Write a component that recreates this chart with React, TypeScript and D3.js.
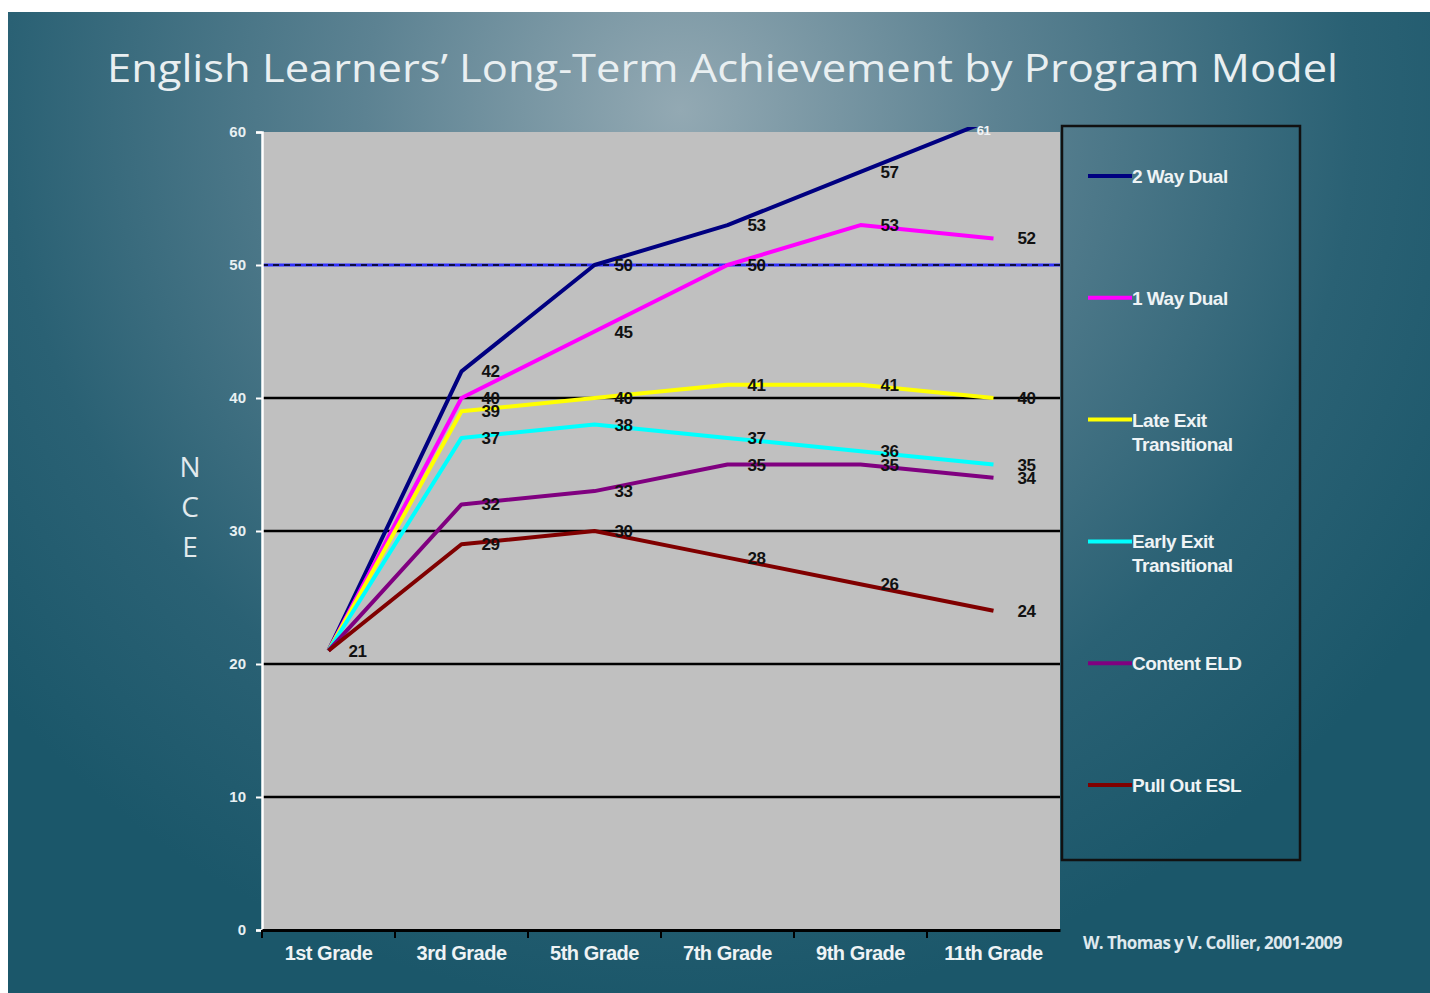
import React, { useEffect, useRef } from "react";
import * as d3 from "d3";

// grades on the x axis
const grades = ["1st Grade", "3rd Grade", "5th Grade", "7th Grade", "9th Grade", "11th Grade"];

// NCE scores per program model
const twoWayDual = [21, 42, 50, 53, 57, 61];
const oneWayDual = [21, 40, 45, 50, 53, 52];
const lateExit = [21, 39, 40, 41, 41, 40];
const earlyExit = [21, 37, 38, 37, 36, 35];
const contentELD = [21, 32, 33, 35, 35, 34];
const pullOutESL = [21, 29, 30, 28, 26, 24];

const yTicks = [0, 10, 20, 30, 40, 50, 60];

const seriesNames = ["2 Way Dual", "1 Way Dual", "Late Exit Transitional", "Early Exit Transitional", "Content ELD", "Pull Out ESL"];
const seriesColors = ["#000080", "#ff00ff", "#ffff00", "#00ffff", "#800080", "#800000"];

const App = () => {
  const ref = useRef<HTMLDivElement>(null);

  useEffect(() => {
    document.body.style.margin = "0";
    d3.select(ref.current).select("svg").remove();

    const width = 1430;
    const height = 993;
    const plot = { left: 262, right: 1060, top: 132, bottom: 930 };

    const svg = d3
      .select(ref.current)
      .append("svg")
      .attr("width", width)
      .attr("height", height)
      .style("display", "block");

    // slide background
    const defs = svg.append("defs");
    const grad = defs
      .append("radialGradient")
      .attr("id", "bg")
      .attr("gradientUnits", "userSpaceOnUse")
      .attr("cx", 680)
      .attr("cy", 110)
      .attr("r", 900);
    grad.append("stop").attr("offset", "0%").attr("stop-color", "#93a9b3");
    grad.append("stop").attr("offset", "35%").attr("stop-color", "#5c8292");
    grad.append("stop").attr("offset", "75%").attr("stop-color", "#2a6174");
    grad.append("stop").attr("offset", "100%").attr("stop-color", "#1b576a");

    // clip so that values above the axis max stop at the plot edge
    defs
      .append("clipPath")
      .attr("id", "plotClip")
      .append("rect")
      .attr("x", plot.left)
      .attr("y", plot.top - 5)
      .attr("width", plot.right - plot.left)
      .attr("height", plot.bottom - plot.top + 5);

    svg.append("rect").attr("width", width).attr("height", height).attr("fill", "#ffffff");
    svg
      .append("rect")
      .attr("x", 8)
      .attr("y", 12)
      .attr("width", width - 8)
      .attr("height", height - 12)
      .attr("fill", "url(#bg)");

    // title
    svg
      .append("text")
      .attr("x", 107)
      .attr("y", 82)
      .attr("textLength", 1231)
      .attr("lengthAdjust", "spacingAndGlyphs")
      .attr("fill", "#e9eff1")
      .style("font-family", "'Open Sans', sans-serif")
      .style("font-size", "38px")
      .text("English Learners\u2019 Long-Term Achievement by Program Model");

    const x = d3.scaleBand().domain(grades).range([plot.left, plot.right]);
    const y = d3.scaleLinear().domain([0, 60]).range([plot.bottom, plot.top]);
    const cx = (g: string) => (x(g) as number) + x.bandwidth() / 2;

    // plot area
    svg
      .append("rect")
      .attr("x", plot.left)
      .attr("y", plot.top)
      .attr("width", plot.right - plot.left)
      .attr("height", plot.bottom - plot.top)
      .attr("fill", "#c0c0c0");

    // gridlines
    svg
      .selectAll(".grid")
      .data(yTicks.filter((t) => t > 0 && t < 50))
      .enter()
      .append("line")
      .attr("x1", plot.left)
      .attr("x2", plot.right)
      .attr("y1", (d) => y(d))
      .attr("y2", (d) => y(d))
      .attr("stroke", "#000")
      .attr("stroke-width", 2.5);

    // 50 reference line, blue with black dashes
    svg
      .append("line")
      .attr("x1", plot.left)
      .attr("x2", plot.right)
      .attr("y1", y(50))
      .attr("y2", y(50))
      .attr("stroke", "#3030ff")
      .attr("stroke-width", 3);
    svg
      .append("line")
      .attr("x1", plot.left)
      .attr("x2", plot.right)
      .attr("y1", y(50))
      .attr("y2", y(50))
      .attr("stroke", "#000")
      .attr("stroke-width", 1.5)
      .attr("stroke-dasharray", "6,5");

    // y axis
    const yAxis = svg
      .append("g")
      .attr("transform", `translate(${plot.left},0)`)
      .call(d3.axisLeft(y).tickValues(yTicks).tickSize(6).tickPadding(10));
    yAxis.select(".domain").attr("stroke", "#ffffff").attr("stroke-width", 2.5);
    yAxis.selectAll(".tick line").attr("stroke", "#ffffff").attr("stroke-width", 2);
    yAxis
      .selectAll(".tick text")
      .attr("fill", "#e8f0f2")
      .style("font-family", "'Liberation Sans', Arial, sans-serif")
      .style("font-size", "15px")
      .style("font-weight", "bold");

    // x axis
    const xAxis = svg
      .append("g")
      .attr("transform", `translate(0,${plot.bottom})`)
      .call(d3.axisBottom(x).tickSize(0).tickPadding(16));
    xAxis.select(".domain").attr("stroke", "#000").attr("stroke-width", 3);
    xAxis
      .selectAll(".tick text")
      .attr("fill", "#eef3f5")
      .style("font-family", "'Liberation Sans', Arial, sans-serif")
      .style("font-size", "20px")
      .style("font-weight", "bold")
      .style("letter-spacing", "-0.5px");
    svg
      .selectAll(".xtick")
      .data(grades)
      .enter()
      .append("line")
      .attr("x1", (d) => x(d) as number)
      .attr("x2", (d) => x(d) as number)
      .attr("y1", plot.bottom)
      .attr("y2", plot.bottom + 8)
      .attr("stroke", "#000")
      .attr("stroke-width", 2);

    // y axis title, stacked letters
    svg
      .selectAll(".ylab")
      .data(["N", "C", "E"])
      .enter()
      .append("text")
      .attr("x", 190)
      .attr("y", (d, i) => 477 + i * 40)
      .attr("text-anchor", "middle")
      .attr("fill", "#e2eaed")
      .style("font-family", "'Open Sans', sans-serif")
      .style("font-size", "28px")
      .text((d) => d);

    const allSeries = [twoWayDual, oneWayDual, lateExit, earlyExit, contentELD, pullOutESL];
    const line = d3
      .line<number>()
      .x((d, i) => cx(grades[i]))
      .y((d) => y(d));

    const lines = svg.append("g").attr("clip-path", "url(#plotClip)");
    allSeries.forEach((vals, si) => {
      lines
        .append("path")
        .datum(vals)
        .attr("d", line)
        .attr("fill", "none")
        .attr("stroke", seriesColors[si])
        .attr("stroke-width", 4)
        .attr("stroke-linejoin", "round");
    });

    // data labels (first grade shown once)
    const yMax = y.domain()[1];
    allSeries.forEach((vals, si) => {
      svg
        .selectAll(`.lab${si}`)
        .data(vals.map((v, i) => ({ v, i })).filter((d) => d.i > 0 || si === allSeries.length - 1))
        .enter()
        .append("text")
        .attr("x", (d) => (d.v > yMax ? cx(grades[d.i]) - 10 : cx(grades[d.i]) + (d.i === grades.length - 1 ? 33 : 29)))
        .attr("y", (d) => (d.v > yMax ? plot.top + 3 : y(d.v) + 6))
        .attr("text-anchor", "middle")
        .attr("fill", (d) => (d.v > yMax ? "#f0f4f6" : "#111"))
        .style("font-family", "'Liberation Sans', Arial, sans-serif")
        .style("font-size", (d) => (d.v > yMax ? "13px" : "17px"))
        .style("font-weight", "bold")
        .style("letter-spacing", "-0.5px")
        .text((d) => d.v);
    });

    // legend
    svg
      .append("rect")
      .attr("x", 1062)
      .attr("y", 126)
      .attr("width", 238)
      .attr("height", 734)
      .attr("fill", "none")
      .attr("stroke", "#111")
      .attr("stroke-width", 2.5);

    const legendY = d3.scalePoint<string>().domain(seriesNames).range([176, 785]);
    const legendLines = [["2 Way Dual"], ["1 Way Dual"], ["Late Exit", "Transitional"], ["Early Exit", "Transitional"], ["Content ELD"], ["Pull Out ESL"]];
    seriesNames.forEach((name, i) => {
      const ly = legendY(name) as number;
      svg
        .append("line")
        .attr("x1", 1088)
        .attr("x2", 1132)
        .attr("y1", ly)
        .attr("y2", ly)
        .attr("stroke", seriesColors[i])
        .attr("stroke-width", 4);
      const t = svg
        .append("text")
        .attr("x", 1132)
        .attr("y", ly + 7)
        .attr("fill", "#eef3f5")
        .style("font-family", "'Liberation Sans', Arial, sans-serif")
        .style("font-size", "19px")
        .style("font-weight", "bold")
        .style("letter-spacing", "-0.5px");
      legendLines[i].forEach((l, j) => {
        t.append("tspan").attr("x", 1132).attr("dy", j === 0 ? 0 : 24).text(l);
      });
    });

    // source note
    svg
      .append("text")
      .attr("x", 1083)
      .attr("y", 949)
      .attr("fill", "#dfe9ee")
      .style("font-family", "'Open Sans', sans-serif")
      .style("font-size", "17px")
      .style("font-weight", "bold")
      .style("letter-spacing", "-0.6px")
      .text("W. Thomas y V. Collier, 2001-2009");
  }, []);

  return <div ref={ref}></div>;
};

export default App;
